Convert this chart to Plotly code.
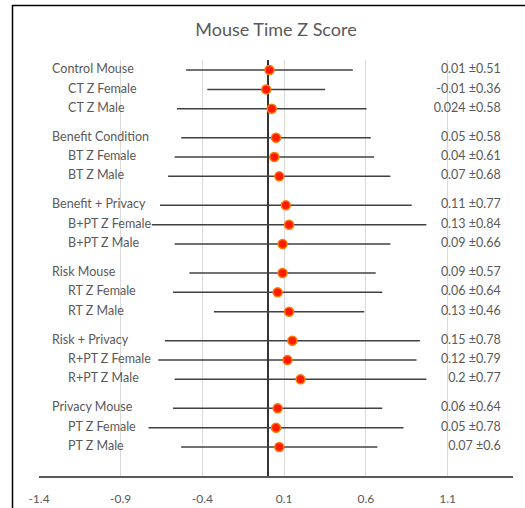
import plotly.graph_objects as go

labels = ["Control Mouse", "CT Z Female", "CT Z Male",
          "Benefit Condition", "BT Z Female", "BT Z Male",
          "Benefit + Privacy", "B+PT Z Female", "B+PT Z Male",
          "Risk Mouse", "RT Z Female", "RT Z Male",
          "Risk + Privacy", "R+PT Z Female", "R+PT Z Male",
          "Privacy Mouse", "PT Z Female", "PT Z Male"]
means = [0.01, -0.01, 0.024,
         0.05, 0.04, 0.07,
         0.11, 0.13, 0.09,
         0.09, 0.06, 0.13,
         0.15, 0.12, 0.2,
         0.06, 0.05, 0.07]
sds = [0.51, 0.36, 0.58,
       0.58, 0.61, 0.68,
       0.77, 0.84, 0.66,
       0.57, 0.64, 0.46,
       0.78, 0.79, 0.77,
       0.64, 0.78, 0.6]
value_labels = ["0.01 ±0.51", "-0.01 ±0.36", "0.024 ±0.58",
                "0.05 ±0.58", "0.04 ±0.61", "0.07 ±0.68",
                "0.11 ±0.77", "0.13 ±0.84", "0.09 ±0.66",
                "0.09 ±0.57", "0.06 ±0.64", "0.13 ±0.46",
                "0.15 ±0.78", "0.12 ±0.79", "0.2 ±0.77",
                "0.06 ±0.64", "0.05 ±0.78", "0.07 ±0.6"]
tick_vals = [-1.4, -0.9, -0.4, 0.1, 0.6, 1.1]
tick_text = ["-1.4", "-0.9", "-0.4", "0.1", "0.6", "1.1"]

# row positions: groups of three with a half-row gap between groups
ypos = [(i // 3) * 3.5 + (i % 3) for i in range(len(labels))]
is_header = [i % 3 == 0 for i in range(len(labels))]

FONT = "Lato, 'Open Sans', sans-serif"
GRAY = "#595959"

fig = go.Figure()

fig.add_trace(go.Scatter(
    x=means, y=ypos, mode="markers",
    marker=dict(size=9, color="#FF1A00", line=dict(color="#FF7A00", width=1.5)),
    error_x=dict(type="data", array=sds, symmetric=True, color="#404040",
                 thickness=1.5, width=0),
    hoverinfo="skip", showlegend=False,
))

# left category labels
hx = [-1.32 if h else -1.222 for h in is_header]
fig.add_trace(go.Scatter(
    x=hx, y=ypos, mode="text", text=labels, textposition="middle right",
    textfont=dict(family=FONT, size=12.5, color=GRAY),
    hoverinfo="skip", showlegend=False, cliponaxis=False,
))

# right value labels
fig.add_trace(go.Scatter(
    x=[1.425] * len(value_labels), y=ypos, mode="text", text=value_labels,
    textposition="middle left",
    textfont=dict(family=FONT, size=12.5, color=GRAY),
    hoverinfo="skip", showlegend=False, cliponaxis=False,
))

W, H = 525, 508
L, R, T, B = 39, 12, 60, 32
pw, ph = W - L - R, H - T - B

def px_to_paper_x(px):
    return (px - L) / pw

def px_to_paper_y(py):
    return (H - B - py) / ph

# outer frame: left and top edges
shapes = [
    dict(type="line", xref="paper", yref="paper", layer="above",
         x0=px_to_paper_x(12.5), x1=px_to_paper_x(12.5),
         y0=px_to_paper_y(5), y1=px_to_paper_y(515),
         line=dict(color="black", width=1.5)),
    dict(type="line", xref="paper", yref="paper", layer="above",
         x0=px_to_paper_x(12), x1=px_to_paper_x(525),
         y0=px_to_paper_y(5.5), y1=px_to_paper_y(5.5),
         line=dict(color="black", width=1.5)),
]

fig.update_layout(
    width=W, height=H,
    margin=dict(l=L, r=R, t=T, b=B, autoexpand=False),
    paper_bgcolor="white", plot_bgcolor="white",
    title=dict(text="Mouse Time Z Score", x=0.5, xref="paper", xanchor="center",
               y=1 - 30 / H, yanchor="middle",
               font=dict(family=FONT, size=18, color=GRAY)),
    shapes=shapes,
    xaxis=dict(range=[-1.4, 1.5], tickvals=tick_vals, ticktext=tick_text,
               showgrid=True, gridcolor="#D9D9D9", gridwidth=1.2,
               zeroline=True, zerolinecolor="#333333", zerolinewidth=2,
               showline=True, linecolor=GRAY, linewidth=2, mirror=False,
               ticks="", tickfont=dict(family=FONT, size=12, color=GRAY),
               ticklabelstandoff=11, automargin=False, fixedrange=True),
    yaxis=dict(range=[21, -0.52], showgrid=False, zeroline=False, automargin=False,
               showticklabels=False, showline=False, ticks="", fixedrange=True),
)

# remove the default 8px page margin so the figure sits at the window's corner
fig.write_html("out.html",
               config=dict(displayModeBar=False, staticPlot=True),
               post_script="document.body.style.margin='0';"
                           "document.body.style.overflow='hidden';")
